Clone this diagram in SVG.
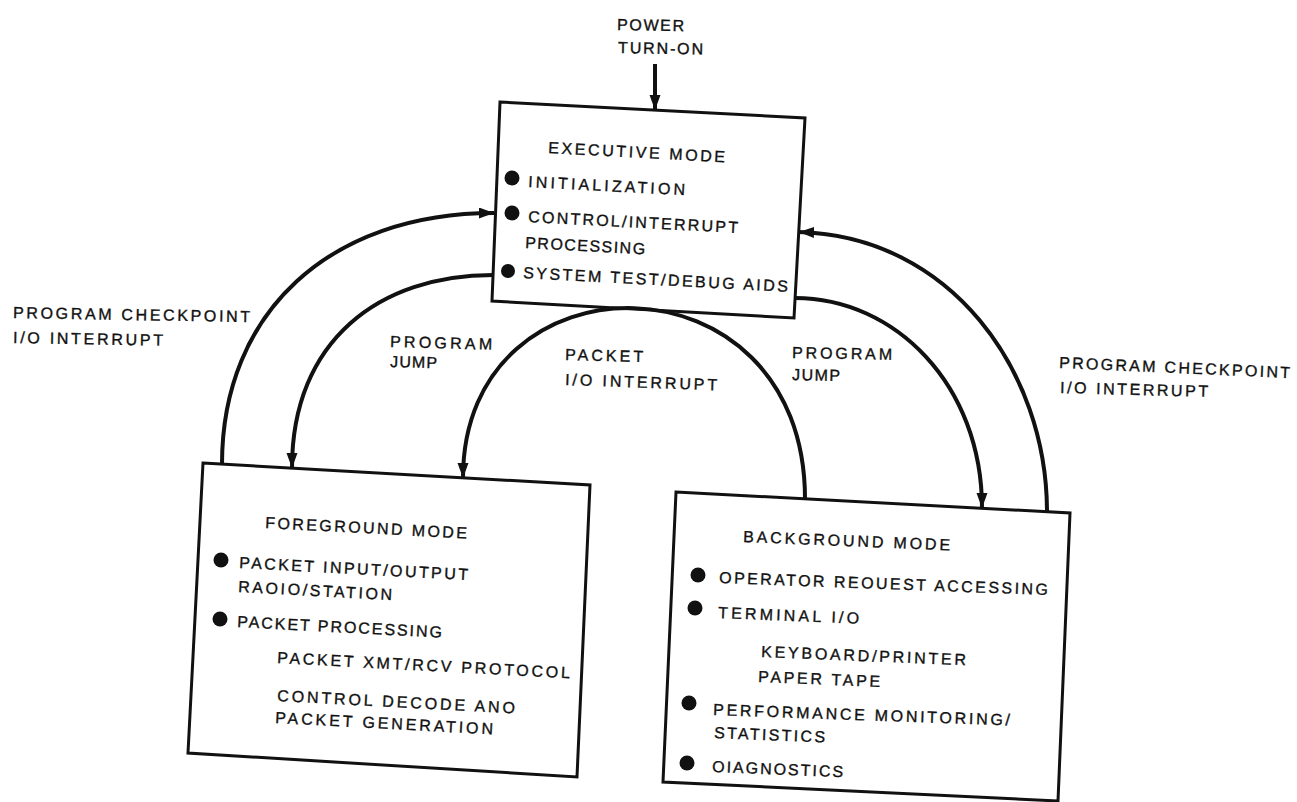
<svg xmlns="http://www.w3.org/2000/svg" width="1297" height="802" viewBox="0 0 1297 802">
  <style>
    .box { fill: #fff; stroke: #111; stroke-width: 3; stroke-linejoin: miter; }
    .t { font-family: "Liberation Sans", Arial, Helvetica, sans-serif; font-size: 16px; fill: #111; stroke: #111; stroke-width: 0.35; }
    .dot { fill: #111; }
    .link { fill: none; stroke: #111; stroke-width: 4; }
  </style>
  <defs>
    <marker id="arrow" markerUnits="userSpaceOnUse" markerWidth="18" markerHeight="12" refX="15" refY="5.5" orient="auto">
      <path d="M0,0 L15,5.5 L0,11 z" fill="#111"/>
    </marker>
  </defs>
  <rect width="1297" height="802" fill="#fff"/>

  <!-- power-on entry -->
  <g id="power">
    <text class="t" x="617" y="30" textLength="67" lengthAdjust="spacing" transform="rotate(1 617 30)">POWER</text>
    <text class="t" x="618" y="53" textLength="85" lengthAdjust="spacing" transform="rotate(1 618 53)">TURN-ON</text>
  </g>

  <!-- executive mode -->
  <g id="executive">
    <polygon class="box" points="500,102 805,118 794,318 492,301"/>
    <text class="t" x="548" y="153" textLength="177" lengthAdjust="spacing" transform="rotate(3 548 153)">EXECUTIVE MODE</text>
    <circle class="dot" cx="512" cy="178" r="7.5"/>
    <text class="t" x="528" y="187" textLength="157" lengthAdjust="spacing" transform="rotate(3 528 187)">INITIALIZATION</text>
    <circle class="dot" cx="512" cy="213" r="7.5"/>
    <text class="t" x="528" y="222" textLength="210" lengthAdjust="spacing" transform="rotate(3 528 222)">CONTROL/INTERRUPT</text>
    <text class="t" x="525" y="248" textLength="120" lengthAdjust="spacing" transform="rotate(3 525 248)">PROCESSING</text>
    <circle class="dot" cx="508" cy="271" r="7"/>
    <text class="t" x="523" y="278" textLength="265" lengthAdjust="spacing" transform="rotate(3 523 278)">SYSTEM TEST/DEBUG AIDS</text>
  </g>

  <!-- foreground mode -->
  <g id="foreground">
    <polygon class="box" points="203,463 590,485 577,777 188,753"/>
    <text class="t" x="265" y="528" textLength="202" lengthAdjust="spacing" transform="rotate(3 265 528)">FOREGROUND MODE</text>
    <circle class="dot" cx="221" cy="560" r="7.5"/>
    <text class="t" x="239" y="568" textLength="229" lengthAdjust="spacing" transform="rotate(3 239 568)">PACKET INPUT/OUTPUT</text>
    <text class="t" x="238" y="592" textLength="154" lengthAdjust="spacing" transform="rotate(3 238 592)">RAOIO/STATION</text>
    <circle class="dot" cx="220" cy="619" r="7.5"/>
    <text class="t" x="237" y="627" textLength="205" lengthAdjust="spacing" transform="rotate(3 237 627)">PACKET PROCESSING</text>
    <text class="t" x="277" y="663" textLength="293" lengthAdjust="spacing" transform="rotate(3 277 663)">PACKET XMT/RCV PROTOCOL</text>
    <text class="t" x="277" y="701" textLength="238" lengthAdjust="spacing" transform="rotate(3 277 701)">CONTROL DECODE ANO</text>
    <text class="t" x="275" y="723" textLength="218" lengthAdjust="spacing" transform="rotate(3 275 723)">PACKET GENERATION</text>
  </g>

  <!-- background mode -->
  <g id="background">
    <polygon class="box" points="676,492 1070,513 1058,801 663,782"/>
    <text class="t" x="743" y="542" textLength="207" lengthAdjust="spacing" transform="rotate(2.3 743 542)">BACKGROUND MODE</text>
    <circle class="dot" cx="698" cy="575" r="7.5"/>
    <text class="t" x="719" y="583" textLength="329" lengthAdjust="spacing" transform="rotate(2.1 719 583)">OPERATOR REOUEST ACCESSING</text>
    <circle class="dot" cx="695" cy="608" r="7.5"/>
    <text class="t" x="718" y="618" textLength="141" lengthAdjust="spacing" transform="rotate(2.3 718 618)">TERMINAL I/O</text>
    <text class="t" x="761" y="657" textLength="205" lengthAdjust="spacing" transform="rotate(2.3 761 657)">KEYBOARD/PRINTER</text>
    <text class="t" x="758" y="682" textLength="122" lengthAdjust="spacing" transform="rotate(2.3 758 682)">PAPER TAPE</text>
    <circle class="dot" cx="689" cy="703" r="7.5"/>
    <text class="t" x="713" y="715" textLength="297" lengthAdjust="spacing" transform="rotate(2 713 715)">PERFORMANCE MONITORING/</text>
    <text class="t" x="714" y="738" textLength="111" lengthAdjust="spacing" transform="rotate(2.3 714 738)">STATISTICS</text>
    <circle class="dot" cx="687" cy="763" r="7.5"/>
    <text class="t" x="712" y="772" textLength="131" lengthAdjust="spacing" transform="rotate(2.3 712 772)">OIAGNOSTICS</text>
  </g>

  <!-- transitions between modes -->
  <g id="connectors">
    <path class="link" d="M655,64 L655,110" marker-end="url(#arrow)"/>
    <!-- foreground -> executive (checkpoint / I/O interrupt) -->
    <path class="link" d="M222,464 C222,312 330,213 494,213" marker-end="url(#arrow)"/>
    <!-- executive -> foreground (program jump) -->
    <path class="link" d="M493,275 C380,275 292,340 292,468" marker-end="url(#arrow)"/>
    <!-- background -> foreground (packet I/O interrupt) -->
    <path class="link" d="M805,499 C805,248 463,248 463,478" marker-end="url(#arrow)"/>
    <!-- executive -> background (program jump) -->
    <path class="link" d="M795,298 C895,298 982,385 982,508" marker-end="url(#arrow)"/>
    <!-- background -> executive (checkpoint / I/O interrupt) -->
    <path class="link" d="M1047,512 C1047,370 950,236 799,232" marker-end="url(#arrow)"/>
  </g>

  <!-- connector labels -->
  <g id="labels">
    <text class="t" x="13" y="318" textLength="237" lengthAdjust="spacing" transform="rotate(1 13 318)">PROGRAM CHECKPOINT</text>
    <text class="t" x="13" y="343" textLength="150" lengthAdjust="spacing" transform="rotate(1 13 343)">I/O INTERRUPT</text>
    <text class="t" x="390" y="347" textLength="102" lengthAdjust="spacing" transform="rotate(1.5 390 347)">PROGRAM</text>
    <text class="t" x="390" y="367" textLength="47" lengthAdjust="spacing" transform="rotate(1.5 390 367)">JUMP</text>
    <text class="t" x="565" y="360" textLength="78" lengthAdjust="spacing" transform="rotate(1.5 565 360)">PACKET</text>
    <text class="t" x="565" y="385" textLength="152" lengthAdjust="spacing" transform="rotate(2 565 385)">I/O INTERRUPT</text>
    <text class="t" x="792" y="358" textLength="100" lengthAdjust="spacing" transform="rotate(1 792 358)">PROGRAM</text>
    <text class="t" x="792" y="380" textLength="48" lengthAdjust="spacing" transform="rotate(1 792 380)">JUMP</text>
    <text class="t" x="1059" y="368" textLength="231" lengthAdjust="spacing" transform="rotate(2.5 1059 368)">PROGRAM CHECKPOINT</text>
    <text class="t" x="1060" y="393" textLength="148" lengthAdjust="spacing" transform="rotate(1.5 1060 393)">I/O INTERRUPT</text>
  </g>
</svg>
